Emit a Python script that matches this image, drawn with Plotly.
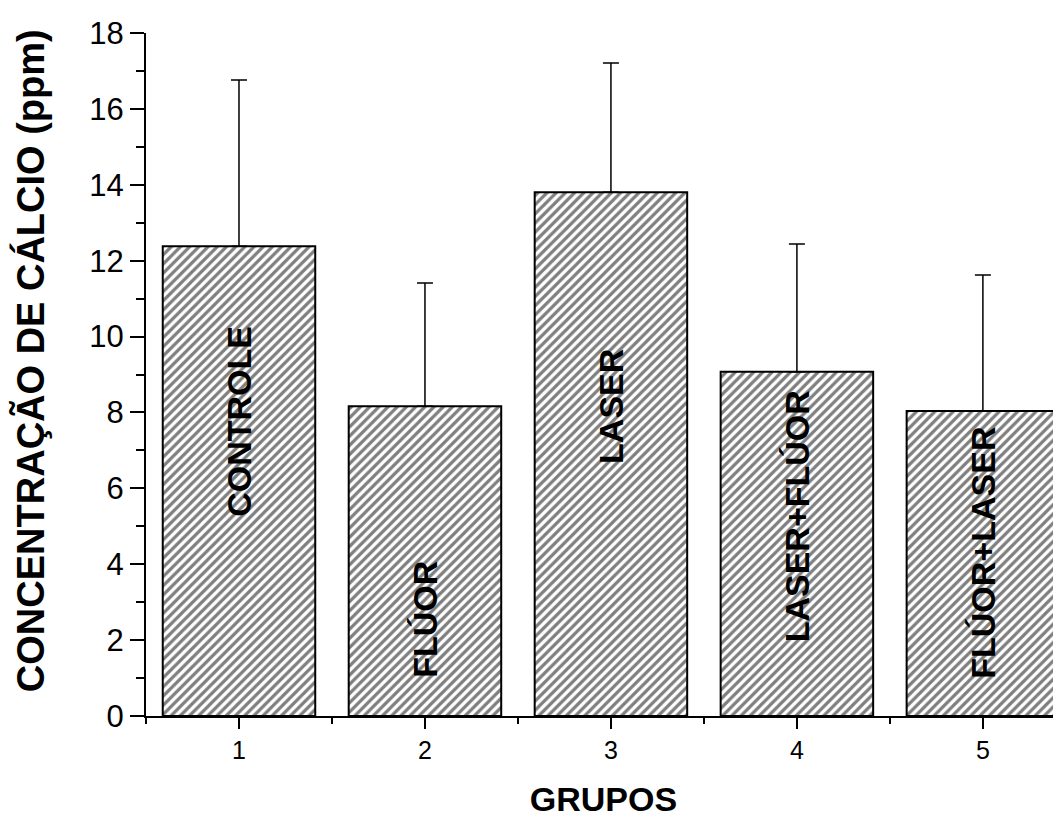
import plotly.graph_objects as go

groups = [1, 2, 3, 4, 5]
group_names = ["CONTROLE", "FLÚOR", "LASER", "LASER+FLÚOR", "FLÚOR+LASER"]
means = [12.38, 8.16, 13.80, 9.07, 8.04]
sd_upper = [4.38, 3.25, 3.41, 3.37, 3.58]
name_y = [7.78, 2.56, 8.17, 5.26, 4.3]
y_title = "CONCENTRAÇÃO DE CÁLCIO (ppm)"
x_title = "GRUPOS"

FONT = "Arial, Liberation Sans, sans-serif"

fig = go.Figure()
fig.add_trace(go.Bar(
    x=groups, y=means, width=0.82,
    marker=dict(color="white", line=dict(color="black", width=2),
                pattern=dict(shape="/", fgcolor="black", bgcolor="white", size=6.5, solidity=0.5)),
    error_y=dict(type="data", array=sd_upper, arrayminus=[0]*len(sd_upper), symmetric=False,
                 color="black", thickness=1.5, width=8),
    showlegend=False,
))

for g, name, yy in zip(groups, group_names, name_y):
    fig.add_annotation(x=g, y=yy, text="<b>%s</b>" % name, textangle=-90, showarrow=False,
                       font=dict(family=FONT, size=34, color="black"))

# y-axis title (placed as paper annotation to match vertical offset)
fig.add_annotation(xref="paper", yref="paper", x=-0.1268, y=0.521, text="<b>%s</b>" % y_title,
                   textangle=-90, showarrow=False, xanchor="center", yanchor="middle",
                   font=dict(family=FONT, size=38, color="black"))

fig.update_layout(
    width=1053, height=811,
    margin=dict(l=138, r=0, t=25, b=103),
    plot_bgcolor="white", paper_bgcolor="white",
    font=dict(family=FONT, color="black"),
)
fig.update_xaxes(
    range=[0.5, 5.42], tickmode="array", tickvals=groups, ticktext=[str(g) for g in groups],
    ticks="outside", ticklen=11, tickwidth=2, tickcolor="black",
    minor=dict(tickmode="array", tickvals=[0.5, 1.5, 2.5, 3.5, 4.5], ticks="outside", ticklen=6, tickwidth=2, tickcolor="black"),
    showline=True, linecolor="black", linewidth=2, showgrid=False, zeroline=False,
    tickfont=dict(family=FONT, size=25, color="black"),
    title=dict(text="<b>%s</b>" % x_title, font=dict(family=FONT, size=34, color="black"), standoff=24),
)
fig.update_yaxes(
    range=[0, 18], tickmode="linear", tick0=0, dtick=2,
    ticks="outside", ticklen=14, tickwidth=2, tickcolor="black",
    minor=dict(dtick=1, ticks="outside", ticklen=8, tickwidth=2, tickcolor="black"),
    showline=True, linecolor="black", linewidth=2, showgrid=False, zeroline=False,
    tickfont=dict(family=FONT, size=31, color="black"),
)

fig.write_html("out.html")
